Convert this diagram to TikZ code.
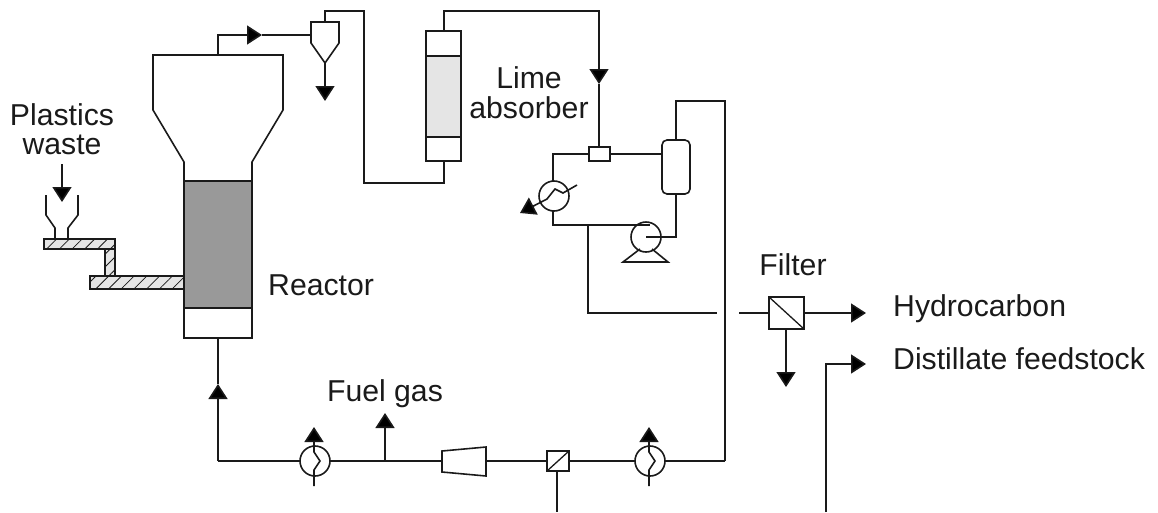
\documentclass[tikz,border=0pt]{standalone}
\usepackage{fontspec}
\setmainfont{Liberation Sans}
\usetikzlibrary{arrows.meta,patterns.meta}
\definecolor{ink}{HTML}{1A1A1A}
\tikzset{
  base/.style={draw=ink,line width=1.6pt,line join=miter},
  pipe/.style={base},
  flow/.style={base,-{Triangle[length=15pt,width=19pt,fill=black]}},
  box/.style={base,rectangle,inner sep=0pt,outer sep=0pt,fill=white},
  hatched/.style={base,preaction={fill=black!10},pattern={Lines[angle=45,distance=9pt,line width=0.8pt]},pattern color=ink},
  hx/.style={base,circle,inner sep=0pt,outer sep=0pt,minimum size=30pt,fill=white},
  label/.style={font=\fontsize{30.2}{32}\selectfont,text=ink,inner sep=0pt},
}
\begin{document}
\begin{tikzpicture}[x=1pt,y=-1pt]
\useasboundingbox (0,0) rectangle (1158,512);

% free ends and bends
\coordinate (cycTop) at (325,22);
\coordinate (b1) at (325,11);
\coordinate (b2) at (364,11);
\coordinate (b3) at (364,183);
\coordinate (b4) at (444,183);
\coordinate (b5) at (444,11);
\coordinate (b6) at (599,11);
\coordinate (absTip) at (599,84);
\coordinate (rTop) at (218,55);
\coordinate (rBend) at (218,35);
\coordinate (rTip) at (262,35);
\coordinate (cycIn) at (311,35);
\coordinate (cycBot) at (325,63);
\coordinate (cycOut) at (325,101);
\coordinate (feedA) at (62,164);
\coordinate (feedB) at (62,202);

% reactor
\draw[base,fill=white] (153,110) -- (153,55) -- (283,55) -- (283,110) -- (252,162) -- (252,181) -- (184,181) -- (184,162) -- cycle;
\node[box,fill=black!40,minimum width=68pt,minimum height=127pt] (bed) at (218,244.5) {};
\node[box,minimum width=68pt,minimum height=30pt] (rbot) at (218,323) {};

% feeder
\draw[base] (46,195) -- (46,215) -- (55,228) -- (55,239);
\draw[base] (78,195) -- (78,215) -- (68,228) -- (68,239);
\draw[hatched] (105,249) rectangle (115,276);
\draw[hatched] (44,239) rectangle (115,249);
\draw[hatched] (90,276) rectangle (184,289);
\draw[flow] (feedA) -- (feedB);

% reactor to cyclone
\draw[flow] (rTop) -- (rBend) -- (rTip);
\draw[pipe] (rTip) -- (cycIn);

% cyclone
\draw[base,fill=white] (311,22) -- (339,22) -- (339,43) -- (325,63) -- (311,43) -- cycle;
\draw[flow] (cycBot) -- (cycOut);

% absorber
\node[box,minimum width=35pt,minimum height=25pt] (abT) at (443.5,43.5) {};
\node[box,fill=black!10,minimum width=35pt,minimum height=81pt] (abM) at (443.5,96.5) {};
\node[box,minimum width=35pt,minimum height=24pt] (abB) at (443.5,149) {};
\draw[pipe] (cycTop) -- (b1) -- (b2) -- (b3) -- (b4) -- (abB.south -| b4);
\draw[flow] (abT.north -| b5) -- (b5) -- (b6) -- (absTip);

% mixer, vessel, cooler, pump
\node[box,minimum width=21pt,minimum height=14pt] (mix) at (599.5,154) {};
\draw[pipe] (absTip) -- (mix.north -| absTip);
\node[base,rectangle,rounded corners=5pt,inner sep=0pt,outer sep=0pt,fill=white,minimum width=28pt,minimum height=54pt] (ves) at (676,167) {};
\node[hx] (cool) at (554,196) {};
\node[base,circle,inner sep=0pt,outer sep=0pt,minimum size=30pt,fill=white] (pump) at (646,237) {};
\coordinate (m1) at (553,154);
\coordinate (m2) at (553,225);
\coordinate (m3) at (650,225);
\coordinate (p1) at (676,237);
\coordinate (v1) at (676,101);
\coordinate (v2) at (725,101);
\coordinate (v3) at (725,461);
\draw[pipe] (mix.west) -- (m1) -- (cool.north -| m1);
\draw[pipe] (mix.east) -- (ves.west |- mix.east);
\draw[pipe] (cool.south -| m2) -- (m2) -- (m3);
\draw[pipe] (pump.center) -- (p1) -- (ves.south -| p1);
\draw[pipe] (ves.north -| v1) -- (v1) -- (v2) -- (v3);
\draw[base] (640,249) -- (623,262) -- (668,262) -- (652,249);
\coordinate (cA) at (577,185);
\coordinate (cB) at (520,213);
\draw[flow] (cA) -- (563,193) -- (555,189) -- (547,199) -- (cB);

% recycle line from pump to filter
\coordinate (d1) at (588,225);
\coordinate (d2) at (588,313);
\coordinate (d3) at (717,313);
\draw[pipe] (d1) -- (d2) -- (d3);

% filter
\node[box,minimum width=35pt,minimum height=32pt] (fil) at (786.5,313) {};
\draw[base,line width=1.3pt] (fil.north west) -- (fil.south east);
\coordinate (fIn) at (739,313);
\coordinate (fOut) at (866,313);
\coordinate (fDown) at (786,387);
\coordinate (dF) at (826,512);
\coordinate (dB) at (826,364);
\coordinate (dT) at (866,364);
\draw[pipe] (fIn) -- (fil.west);
\draw[flow] (fil.east) -- (fOut);
\draw[flow] (fil.south -| fDown) -- (fDown);
\draw[flow] (dF) -- (dB) -- (dT);

% bottom line
\node[hx] (hxA) at (315,461) {};
\node[hx] (hxB) at (650,461) {};
\node[box,minimum width=22pt,minimum height=20pt] (sep) at (558,461) {};
\draw[base,line width=1.3pt] (sep.south west) -- (sep.north east);
\draw[base,fill=white] (442,451) -- (486,447) -- (486,476) -- (442,472) -- cycle;
\coordinate (compL) at (442,461);
\coordinate (compR) at (486,461);
\coordinate (fuelJ) at (385,461);
\coordinate (fuelT) at (385,413);
\coordinate (rB) at (218,461);
\coordinate (rT) at (218,384);
\coordinate (sepOut) at (557,512);
\draw[pipe] (v3) -- (hxB.east);
\draw[pipe] (hxB.west) -- (sep.east);
\draw[pipe] (sep.west) -- (compR);
\draw[pipe] (compL) -- (hxA.east);
\draw[pipe] (hxA.west) -- (rB);
\draw[flow] (rB) -- (rT);
\draw[pipe] (rT) -- (rbot.south);
\draw[flow] (fuelJ) -- (fuelT);
\draw[pipe] (sep.south -| sepOut) -- (sepOut);
\draw[flow] (314,486) -- (314,470) -- (320,461) -- (314,452) -- (314,427);
\draw[flow] (649,486) -- (649,470) -- (655,461) -- (649,452) -- (649,427);

% labels
\node[label,anchor=base] (tPl) at (62,125) {Plastics};
\node[label,anchor=base] (tWa) at (62,154) {waste};
\node[label,anchor=base west] (tRe) at (268,295) {Reactor};
\node[label,anchor=base] (tLi) at (529,88) {Lime};
\node[label,anchor=base] (tAb) at (529,118) {absorber};
\node[label,anchor=base] (tFi) at (793,275) {Filter};
\node[label,anchor=base] (tFu) at (385,401) {Fuel gas};
\node[label,anchor=base west] (tHy) at (893,316) {Hydrocarbon};
\node[label,anchor=base west] (tDi) at (893,369) {Distillate feedstock};
\end{tikzpicture}
\end{document}
